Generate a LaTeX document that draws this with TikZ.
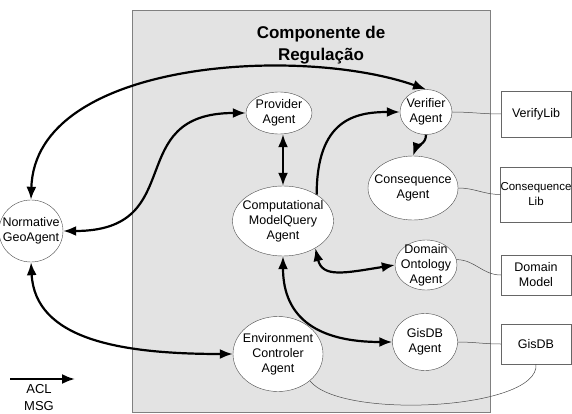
\documentclass[tikz,border=0pt]{standalone}
\usepackage{fontspec}
\setmainfont{Liberation Sans}
\usetikzlibrary{shapes.geometric,arrows.meta}

\begin{document}
\begin{tikzpicture}
    [
    x=1pt,y=-1pt,
    agent/.style={ellipse,draw=black!70,fill=white,inner sep=-8pt,align=center,font=\fontsize{12.5}{15}\selectfont},
    lib/.style={rectangle,draw=black!60,fill=white,inner xsep=0pt,minimum width=70pt,align=center,font=\fontsize{12.5}{15}\selectfont},
    msg/.style={line width=2.2pt,-{Latex[length=13pt,width=10pt]}},
    msgs/.style={line width=2.2pt,{Latex[length=13pt,width=10pt]}-{Latex[length=13pt,width=10pt]}},
    link/.style={draw=black!70,line width=0.5pt},
    ]
    \useasboundingbox (0,0) rectangle (572,414);
    \filldraw [fill=black!11,draw=black!50] (132,10) rectangle (490,412);
    \node (title) at (321,45) [align=center,font=\fontsize{17}{22}\selectfont\bfseries] {Componente de\\Regulação};
    \node (norm) at (31,231) [agent,minimum width=64pt,minimum height=62pt] {Normative\\GeoAgent};
    \node (prov) at (279,113) [agent,minimum width=66pt,minimum height=42pt] {Provider\\Agent};
    \node (verif) at (426,112) [agent,minimum width=52pt,minimum height=45pt] {Verifier\\Agent};
    \node (cons) at (413,188) [agent,minimum width=90pt,minimum height=64pt] {Consequence\\Agent};
    \node (comp) at (283,221) [agent,minimum width=101pt,minimum height=70pt] {Computational\\ModelQuery\\Agent};
    \node (onto) at (426,265) [agent,minimum width=62pt,minimum height=50pt] {Domain\\Ontology\\Agent};
    \node (gisag) at (425,342) [agent,minimum width=65pt,minimum height=57pt] {GisDB\\Agent};
    \node (env) at (278,354) [agent,minimum width=90pt,minimum height=75pt] {Environment\\Controler\\Agent};
    \node (vlib) at (536,114) [lib,minimum height=46pt] {VerifyLib};
    \node (clib) at (536,194.5) [lib,minimum height=55pt,font=\fontsize{11.5}{15}\selectfont] {Consequence\\Lib};
    \node (dmod) at (536,275) [lib,minimum height=40pt] {Domain\\Model};
    \node (gdb) at (536,344) [lib,minimum height=40pt] {GisDB};
    % messages
    \draw [msgs] (norm.north) .. controls (35,60) and (300,45) .. (verif.north);
    \draw [msgs] (norm.east) .. controls +(127,0) and +(-125,0) .. (prov.west);
    \draw [msgs] (norm.south) .. controls +(4,77) and +(-113,0) .. (env.west);
    \draw [msgs] (prov.south -| comp.north) -- (comp.north);
    \draw [msg] (comp.38) .. controls +(0,-75) and +(-45,0) .. (verif.west);
    \draw [msg] (verif.south) to [out=-90,in=70] (cons.north);
    \draw [msgs] (comp.-40) .. controls +(7,30) and +(-50,8) .. (onto.west);
    \draw [msgs] (comp.south) .. controls +(0,63) and +(-73,0) .. (gisag.west);
    % links
    \draw [link] (verif.east) to [out=0,in=180] (vlib.west);
    \draw [link] (cons.east) to [out=0,in=180] (clib.west);
    \draw [link] (onto.10) to [out=0,in=180] (dmod.west);
    \draw [link] (gisag.east) to [out=0,in=180] (gdb.west);
    \draw [link] (env.-40) .. controls (340,420) and (540,410) .. (gdb.south);
    % legend
    \coordinate (acl1) at (10,379);
    \coordinate (acl2) at (75,379);
    \draw [msg] (acl1) -- (acl2);
    \node (acl) at (39,398) [align=center,font=\fontsize{13}{17}\selectfont] {ACL\\MSG};
\end{tikzpicture}
\end{document}
